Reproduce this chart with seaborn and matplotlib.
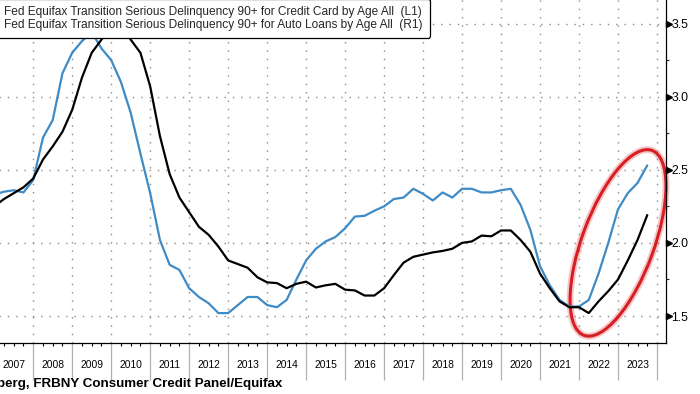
import numpy as np
import pandas as pd
import matplotlib
matplotlib.use('Agg')
import matplotlib.pyplot as plt
import matplotlib.transforms as mtransforms
from matplotlib.patches import Ellipse
import seaborn as sns

# quarterly series, 2007 Q1 .. 2023 Q4
credit_card = [2.33, 2.35, 2.36, 2.345,
               2.43, 2.72, 2.84, 3.16,
               3.30, 3.38, 3.44, 3.33,
               3.25, 3.10, 2.89, 2.61,
               2.34, 2.02, 1.85, 1.815,
               1.69, 1.63, 1.587, 1.52,
               1.52, 1.575, 1.63, 1.63,
               1.575, 1.56, 1.61, 1.75,
               1.88, 1.96, 2.01, 2.04,
               2.10, 2.18, 2.185, 2.22,
               2.25, 2.30, 2.31, 2.37,
               2.335, 2.29, 2.345, 2.31,
               2.37, 2.37, 2.345, 2.345,
               2.36, 2.37, 2.26, 2.09,
               1.84, 1.71, 1.61, 1.565,
               1.565, 1.61, 1.79, 2.0,
               2.23, 2.34, 2.41, 2.53]
auto_loans = [2.25, 2.30, 2.34, 2.38,
              2.44, 2.57, 2.66, 2.76,
              2.91, 3.13, 3.30, 3.39,
              3.48, 3.50, 3.39, 3.30,
              3.07, 2.73, 2.47, 2.31,
              2.21, 2.11, 2.055, 1.975,
              1.88, 1.855, 1.83, 1.765,
              1.73, 1.725, 1.69, 1.72,
              1.735, 1.695, 1.71, 1.72,
              1.68, 1.675, 1.64, 1.64,
              1.69, 1.78, 1.865, 1.905,
              1.92, 1.935, 1.945, 1.96,
              2.0, 2.01, 2.05, 2.045,
              2.085, 2.085, 2.02, 1.94,
              1.79, 1.69, 1.60, 1.56,
              1.56, 1.52, 1.60, 1.67,
              1.75, 1.88, 2.02, 2.19]
year_labels = list(range(2007, 2024))
y_ticks = [1.5, 2.0, 2.5, 3.0, 3.5]
label_cc = 'Fed Equifax Transition Serious Delinquency 90+ for Credit Card by Age All  (L1)'
label_auto = 'Fed Equifax Transition Serious Delinquency 90+ for Auto Loans by Age All  (R1)'
source_text = 'Source: Bloomberg, FRBNY Consumer Credit Panel/Equifax'

dates = pd.date_range('2007-01-01', periods=len(credit_card), freq='QS')
t = dates.year + (dates.month - 1) / 12.0
df = pd.DataFrame({'t': t, 'cc': credit_card, 'auto': auto_loans})

sns.set_style('white')
plt.rcParams['font.family'] = ['Liberation Sans', 'DejaVu Sans']

fig = plt.figure(figsize=(7, 3.94), dpi=100)
renderer = fig.canvas.get_renderer()


def fit_size(text, target_px, weight='normal'):
    # font size that makes the text about target_px wide
    probe = fig.text(0, 0, text, fontsize=10, fontweight=weight)
    w = probe.get_window_extent(renderer=renderer).width
    probe.remove()
    return 10 * target_px / w


year_fs = fit_size('2008', 23)
ytick_fs = fit_size('3.0', 17)
legend_fs = fit_size(label_cc, 419)
source_fs = fit_size('FRBNY Consumer Credit Panel/Equifax', 249, weight='bold')

ax = fig.add_axes([-0.05, 0.1294, 1.0014, 0.8706])

sns.lineplot(data=df, x='t', y='cc', ax=ax, color='#3f8bc6', linewidth=1.6, label=label_cc)
sns.lineplot(data=df, x='t', y='auto', ax=ax, color='black', linewidth=1.6, label=label_auto)

ax.set_xlim(2006.49, 2024.23)
ax.set_ylim(1.3153, 3.661)
ax.set_xlabel('')
ax.set_ylabel('')

for s in ['top', 'left']:
    ax.spines[s].set_visible(False)
ax.spines['right'].set_color('black')
ax.spines['bottom'].set_color('black')
ax.spines['right'].set_linewidth(0.9)
ax.spines['bottom'].set_linewidth(0.9)

# y axis on the right, triangle markers at the major ticks
ax.yaxis.tick_right()
ax.set_yticks(y_ticks)
ax.set_yticklabels([str(v) for v in y_ticks])
ax.set_yticks([1.75, 2.25, 2.75, 3.25], minor=True)
ax.tick_params(axis='y', which='major', direction='out', length=0, pad=4.0,
               labelsize=ytick_fs, colors='black', left=False, right=True)
ax.tick_params(axis='y', which='minor', direction='out', length=2.2, width=0.8,
               left=False, right=True)
ytrans = mtransforms.blended_transform_factory(ax.transAxes, ax.transData)
ax.plot([1.0043] * len(y_ticks), y_ticks, linestyle='none', marker='>', markersize=4.3,
        color='black', transform=ytrans, clip_on=False)

# x axis: long separators at year boundaries, quarter minor ticks
bounds = year_labels + [2024]
ax.set_xticks(bounds)
ax.set_xticklabels([])
quarters = [y + q for y in range(2006, 2024) for q in (0.25, 0.5, 0.75)]
ax.set_xticks(quarters, minor=True)
ax.tick_params(axis='x', which='major', direction='out', length=26.6, width=0.9,
               color='#b0b0b0', bottom=True)
ax.tick_params(axis='x', which='minor', direction='out', length=2.2, width=0.8,
               color='black', bottom=True)
for yr in year_labels:
    ax.annotate(str(yr), xy=(yr + 0.5, 0), xycoords=('data', 'axes fraction'),
                xytext=(0, -15.8), textcoords='offset points', ha='center', va='center',
                fontsize=year_fs, color='black', annotation_clip=False)

# dotted grid
ax.grid(True, which='major', axis='both', color='#8a8a8a', linestyle=(0, (1, 5)), linewidth=1.0)

# red highlight ellipse around the recent rise
ell_trans = fig.dpi_scale_trans + mtransforms.ScaledTranslation(2023.0, 2.0, ax.transData)
glow = Ellipse((0, 0), width=1.97, height=0.72, angle=69.8, transform=ell_trans,
               fill=False, edgecolor='#e86060', linewidth=5, alpha=0.35, clip_on=False)
ring = Ellipse((0, 0), width=1.97, height=0.72, angle=69.8, transform=ell_trans,
               fill=False, edgecolor='#d81e25', linewidth=2.2, clip_on=False)
ax.add_patch(glow)
ax.add_patch(ring)

# legend, cut off on the left like the source (swatches fall outside the figure)
ax.get_legend().remove()
handles, labels = ax.get_legend_handles_labels()
leg = fig.legend(handles, labels, loc='upper right', bbox_to_anchor=(430 / 700, 1.0 + 1 / 394),
                 bbox_transform=fig.transFigure, fontsize=legend_fs, frameon=True,
                 fancybox=True, edgecolor='black', framealpha=1.0, borderpad=0.6,
                 labelspacing=0.05, handlelength=1.5, handletextpad=1.2, borderaxespad=0)
leg.get_frame().set_linewidth(0.9)

fig.text(282 / 700, 10 / 394, source_text, ha='right', va='center', fontsize=source_fs,
         fontweight='bold', color='black')

fig.savefig('out.png', dpi=100)
